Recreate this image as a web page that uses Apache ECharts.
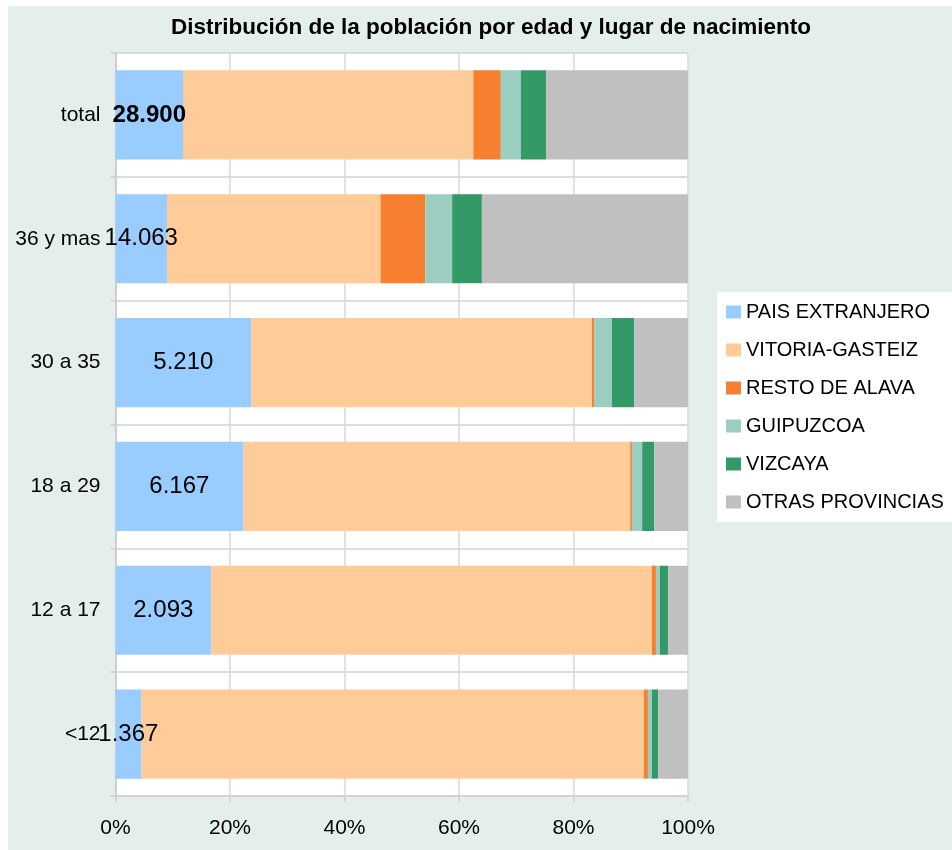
<!DOCTYPE html>
<html>
<head>
<meta charset="utf-8">
<script src="https://cdn.jsdelivr.net/npm/echarts@6/dist/echarts.min.js"></script>
<style>
html,body{margin:0;padding:0;background:#fff;}
#chart{width:952px;height:850px;}
</style>
</head>
<body>
<div id="chart"></div>
<script>
var categories = ['total', '36 y mas', '30 a 35', '18 a 29', '12 a 17', '<12'];
var totalLabels = ['28.900', '14.063', '5.210', '6.167', '2.093', '1.367'];
var seriesNames = ['PAIS EXTRANJERO', 'VITORIA-GASTEIZ', 'RESTO DE ALAVA', 'GUIPUZCOA', 'VIZCAYA', 'OTRAS PROVINCIAS'];
var paisExtranjero  = [11.8,  9.0, 23.7, 22.3, 16.7,  4.5];
var vitoriaGasteiz  = [50.7, 37.3, 59.5, 67.6, 77.0, 87.8];
var restoAlava      = [ 4.8,  7.8,  0.4,  0.3,  0.7,  0.7];
var guipuzcoa       = [ 3.5,  4.7,  3.1,  1.8,  0.7,  0.7];
var vizcaya         = [ 4.4,  5.2,  3.9,  2.1,  1.4,  1.1];
var otrasProvincias = [24.8, 36.0,  9.4,  5.9,  3.5,  5.2];
var xTicks = [0, 20, 40, 60, 80, 100];

var colors = ['#99ccff', '#ffcc99', '#f78030', '#9ccdc1', '#339966', '#c0c0c0'];
var seriesData = [paisExtranjero, vitoriaGasteiz, restoAlava, guipuzcoa, vizcaya, otrasProvincias];
var FONT = "'Liberation Sans', Arial, sans-serif";

var series = seriesData.map(function (d, i) {
  var s = {
    name: seriesNames[i],
    type: 'bar',
    stack: 'all',
    barCategoryGap: '28%',
    data: d,
    itemStyle: { color: colors[i] },
    emphasis: { disabled: true },
    animation: false
  };
  if (i === 0) {
    s.label = {
      show: true,
      position: 'inside',
      fontFamily: FONT,
      fontSize: 24,
      color: '#000',
      formatter: function (p) {
        return p.dataIndex === 0 ? '{b|' + totalLabels[p.dataIndex] + '}' : totalLabels[p.dataIndex];
      },
      rich: { b: { fontFamily: FONT, fontSize: 24, fontWeight: 'bold', color: '#000' } }
    };
    s.z = 3;
  }
  return s;
});

var chart = echarts.init(document.getElementById('chart'), null, { renderer: 'canvas' });
chart.setOption({
  animation: false,
  backgroundColor: '#ffffff',
  graphic: [{
    type: 'rect', z: -100, silent: true,
    shape: { x: 8, y: 6, width: 944, height: 844 },
    style: { fill: '#e4eeec' }
  }],
  title: {
    text: 'Distribución de la población por edad y lugar de nacimiento',
    left: 486,
    textAlign: 'center',
    top: 11,
    textStyle: { fontFamily: FONT, fontSize: 22.5, fontWeight: 'bold', color: '#000' }
  },
  legend: {
    orient: 'vertical',
    left: 717,
    top: 292,
    backgroundColor: '#ffffff',
    padding: [10, 20, 10, 9],
    itemWidth: 15,
    itemHeight: 13,
    itemGap: 18,
    itemStyle: { borderWidth: 0 },
    icon: 'rect',
    textStyle: { fontFamily: FONT, fontSize: 20, color: '#000', lineHeight: 20 },
    data: seriesNames
  },
  grid: {
    left: 115.5, right: 264, top: 53, bottom: 54,
    show: true, backgroundColor: '#ffffff', borderWidth: 0, containLabel: false
  },
  xAxis: {
    type: 'value',
    min: 0, max: 100, interval: 20,
    axisLine: { show: true, lineStyle: { color: '#d0d0d0', width: 1.5 } },
    axisTick: { show: true, length: 6, lineStyle: { color: '#d0d0d0', width: 1.5 } },
    splitLine: { show: true, lineStyle: { color: '#d9d9d9', width: 1.5 } },
    axisLabel: {
      margin: 22,
      fontFamily: FONT, fontSize: 21, color: '#000',
      formatter: function (v) { return xTicks.indexOf(v) >= 0 ? v + '%' : ''; }
    }
  },
  yAxis: {
    type: 'category',
    inverse: true,
    data: categories,
    boundaryGap: true,
    axisLine: { show: true, lineStyle: { color: '#c8c8c8', width: 1.5 } },
    axisTick: { show: true, length: 5, lineStyle: { color: '#d0d0d0', width: 1.5 } },
    splitLine: { show: true, lineStyle: { color: '#d0d0d0', width: 1.5 } },
    axisLabel: { margin: 15, fontFamily: FONT, fontSize: 21, color: '#000' }
  },
  series: series
});
</script>
</body>
</html>
